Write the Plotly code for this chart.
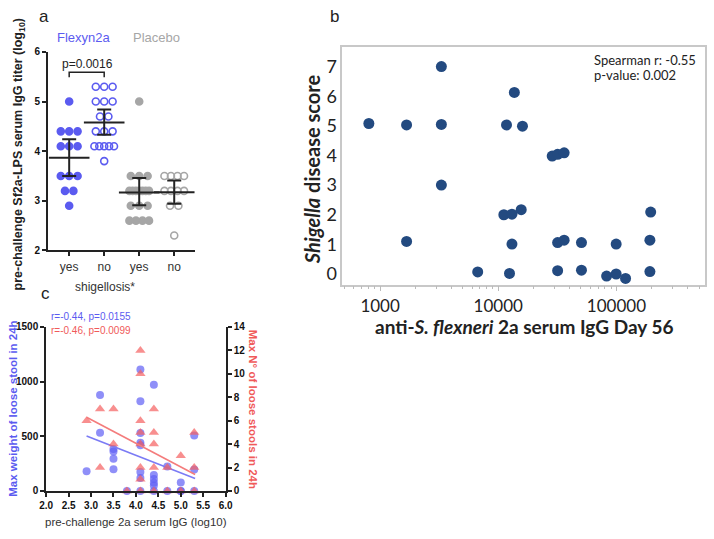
import numpy as np
import plotly.graph_objects as go

W, H = 714, 539

# ---- panel a : pre-challenge titer by shigellosis ----
cats = ['yes', 'no', 'yes', 'no']
flex_yes = [5.0, 4.4, 4.4, 4.4, 4.1, 4.1, 4.1, 3.5, 3.5, 3.5, 3.2, 3.2, 2.9]
flex_no = [5.3, 5.3, 5.3, 5.0, 5.0, 5.0, 4.7, 4.7, 4.4, 4.4, 4.4,
           4.1, 4.1, 4.1, 4.1, 4.1, 3.8]
plac_yes = [5.0, 3.5, 3.5, 3.5, 3.2, 3.2, 3.2, 3.2, 3.2, 3.2, 3.2,
            2.9, 2.9, 2.9, 2.6, 2.6, 2.6, 2.6]
plac_no = [3.5, 3.5, 3.5, 3.5, 3.2, 3.2, 3.2, 3.2, 2.9, 2.9, 2.3]
ci_lo = [3.50, 4.33, 2.91, 2.94]
ci_hi = [4.24, 4.84, 3.46, 3.41]

# ---- panel b : disease score vs IgG day 56 ----
igg56 = [803, 1675, 1675, 3300, 3300, 3300, 13680, 11740, 16030, 28600,
         31800, 36100, 11150, 13060, 15640, 195000, 13060, 31800, 36100, 50600,
         99500, 192000, 6700, 12450, 31800, 50600, 82600, 99500, 119500, 192000]
score = [5.08, 5.03, 1.10, 7.0, 5.05, 3.0, 6.13, 5.03, 4.99, 3.98,
         4.04, 4.09, 2.0, 2.02, 2.17, 2.09, 1.01, 1.06, 1.14, 1.06,
         1.01, 1.14, 0.07, 0.02, 0.11, 0.13, -0.07, 0.0, -0.15, 0.08]

# ---- panel c : stool output vs pre-challenge IgG ----
w_x = [2.9, 3.2, 3.2, 3.5, 3.5, 3.5, 3.5, 3.8, 4.1, 4.1, 4.1, 4.1, 4.1, 4.1, 4.1, 4.1,
       4.4, 4.4, 4.4, 4.4, 4.4, 4.4, 4.7, 4.7, 5.0, 5.0, 5.0, 5.3, 5.3, 5.3]
weight = [180, 878, 533, 383, 362, 294, 198, 0, 1112, 820, 530, 441, 418, 173, 119, 0,
          972, 145, 110, 75, 50, 0, 224, 0, 78, 0, 0, 507, 197, 0]
n_x = [2.9, 3.2, 3.2, 3.5, 3.5, 3.8, 4.1, 4.1, 4.1, 4.1, 4.1, 4.1, 4.1, 4.1,
       4.4, 4.4, 4.4, 4.4, 4.4, 4.7, 4.7, 5.0, 5.0, 5.3, 5.3, 5.3]
n_stools = [6, 7, 2, 7, 4, 0, 12, 10, 6, 5, 4, 2, 1, 0,
            7, 5, 4, 2, 0, 2, 0, 3, 0, 5, 2, 0]
fit_x = [2.9, 5.32]
fit_weight = [502, 113]
fit_count = [6.3, 1.4]

BLUE = '#5b5bf0'
GREY = '#a6a6a6'
RED = '#f05a5a'


def swarm(vals, center):
    # spread equal values side by side like a column scatter
    vals = np.array(vals)
    xs = np.zeros(len(vals))
    for v in np.unique(vals):
        idx = np.where(vals == v)[0]
        n = len(idx)
        step = min(0.24, 0.56 / (n - 1)) if n > 1 else 0
        xs[idx] = center + (np.arange(n) - (n - 1) / 2) * step
    return xs


fig = go.Figure()

groups = [(flex_yes, 0, 'circle', BLUE), (flex_no, 1, 'circle-open', BLUE),
          (plac_yes, 2, 'circle', GREY), (plac_no, 3, 'circle-open', GREY)]
for vals, c, sym, col in groups:
    fig.add_trace(go.Scatter(x=swarm(vals, c), y=vals, mode='markers', xaxis='x', yaxis='y',
                             marker=dict(symbol=sym, size=7, color=col, line=dict(width=1.6, color=col)),
                             showlegend=False, cliponaxis=False))

means = np.array([np.mean(flex_yes), np.mean(flex_no), np.mean(plac_yes), np.mean(plac_no)])
fig.add_trace(go.Scatter(x=[0, 1, 2, 3], y=means, mode='markers', xaxis='x', yaxis='y',
                         marker=dict(symbol='line-ew', size=29, line=dict(width=2, color='#222')),
                         error_y=dict(type='data', array=np.array(ci_hi) - means,
                                      arrayminus=means - np.array(ci_lo),
                                      width=7, thickness=2, color='#222'),
                         showlegend=False))

fig.add_trace(go.Scatter(x=igg56, y=score, mode='markers', xaxis='x2', yaxis='y2',
                         marker=dict(size=11, color='#234a80'), showlegend=False, cliponaxis=False))

fig.add_trace(go.Scatter(x=n_x, y=n_stools, mode='markers', xaxis='x3', yaxis='y4',
                         marker=dict(symbol='triangle-up', size=9, color='rgba(245,95,95,0.7)'),
                         showlegend=False, cliponaxis=False))
fig.add_trace(go.Scatter(x=w_x, y=weight, mode='markers', xaxis='x3', yaxis='y3',
                         marker=dict(size=8, color='rgba(95,95,245,0.7)'),
                         showlegend=False, cliponaxis=False))
fig.add_trace(go.Scatter(x=fit_x, y=fit_weight, mode='lines', xaxis='x3', yaxis='y3',
                         line=dict(color='#7b7bf5', width=1.6), showlegend=False))
fig.add_trace(go.Scatter(x=fit_x, y=fit_count, mode='lines', xaxis='x3', yaxis='y4',
                         line=dict(color='#f47c7c', width=1.6), showlegend=False))


def px(x):
    return x / W


def py(y):
    return 1 - y / H


blk = dict(showline=True, linecolor='#222', linewidth=2, ticks='outside', ticklen=4,
           tickwidth=1.5, tickcolor='#222', showgrid=False, zeroline=False)
boldtick = dict(family='Arial', size=10, color='#111', weight='bold')

fig.update_layout(
    width=W, height=H, margin=dict(l=0, r=0, t=0, b=0),
    paper_bgcolor='white', plot_bgcolor='white',
    xaxis=dict(domain=[px(42), px(192)], range=[-0.6, 3.6], anchor='y',
               tickvals=[0, 1, 2, 3], ticktext=cats,
               tickfont=dict(family='Arial', size=12, color='#333'), **blk),
    yaxis=dict(domain=[py(250), py(47)], range=[2, 6], dtick=1, anchor='x',
               tickfont=boldtick, **blk),
    xaxis2=dict(domain=[px(342), px(712)], type='log', range=[2.68, 5.75], anchor='y2',
                dtick=1, tickformat='d', exponentformat='none',
                showline=True, mirror=True, linecolor='#c8c8c8', linewidth=1.5,
                ticks='outside', ticklen=5, tickcolor='#bbb', showgrid=False, zeroline=False,
                minor=dict(dtick='D1', ticks='outside', ticklen=3, tickcolor='#bbb', showgrid=False),
                tickfont=dict(family='Lato', size=17, color='#222')),
    yaxis2=dict(domain=[py(285), py(42)], range=[-0.36, 7.66], dtick=1, anchor='x2',
                showline=True, mirror=True, linecolor='#c8c8c8', linewidth=1.5,
                ticks='', showgrid=False, zeroline=False,
                tickfont=dict(family='Lato', size=18, color='#222')),
    xaxis3=dict(domain=[px(40), px(223)], range=[2, 6], dtick=0.5, tickformat='.1f',
                anchor='y3', tickfont=boldtick, **blk),
    yaxis3=dict(domain=[py(496), py(328.3)], range=[0, 1500], dtick=500, anchor='x3',
                tickfont=boldtick, **blk),
    yaxis4=dict(range=[0, 14], dtick=2, anchor='x3', overlaying='y3', side='right',
                tickfont=boldtick, **blk),
)

fig.add_shape(type='path', path='M 0,5.49 L 0,5.59 L 1,5.59 L 1,5.49',
              xref='x', yref='y', line=dict(color='#222', width=1.5))


def note(text, x, y, size, color='#222', angle=0, bold=False, family='Arial', xanchor='center'):
    fig.add_annotation(text=text, x=px(x), y=py(y), xref='paper', yref='paper',
                       showarrow=False, textangle=angle, xanchor=xanchor, yanchor='middle',
                       font=dict(family=family, size=size, color=color,
                                 weight='bold' if bold else 'normal'))


note('a', 38, 11, 17)
note('b', 334, 11, 17)
note('c', 39, 294, 17)

note('Flexyn2a', 79, 32, 13, color=BLUE)
note('Placebo', 152, 32, 13, color=GREY)
note('p=0.0016', 82, 59, 12)
note('pre-challenge Sf2a-LPS serum IgG titer (log<sub>10</sub>)', 12, 152, 12.5, angle=-90, bold=True)
note('shigellosis*', 100, 287, 12, color='#333')

note('Spearman r: -0.55', 597, 55, 13, family='Lato', xanchor='left')
note('p-value: 0.002', 597, 71, 13, family='Lato', xanchor='left')
note('<i>Shigella</i> disease score', 311, 167, 20, angle=-90, bold=True, family='Lato')
note('anti-<i>S. flexneri</i> 2a serum IgG Day 56', 527, 328, 19, bold=True, family='Lato')

note('r=-0.44, p=0.0155', 43, 318, 10, color=BLUE, xanchor='left')
note('r=-0.46, p=0.0099', 43, 332, 10, color=RED, xanchor='left')
note('Max weight of loose stool in 24h', 6, 412, 11.5, color=BLUE, angle=-90, bold=True)
note('Max N° of loose stools in 24h', 251, 412, 11.5, color=RED, angle=90, bold=True)
note('pre-challenge 2a serum IgG (log10)', 132, 528, 11.5, color='#333')

fig.write_html('out.html', config={'displayModeBar': False},
               post_script="document.body.style.margin='0';")
